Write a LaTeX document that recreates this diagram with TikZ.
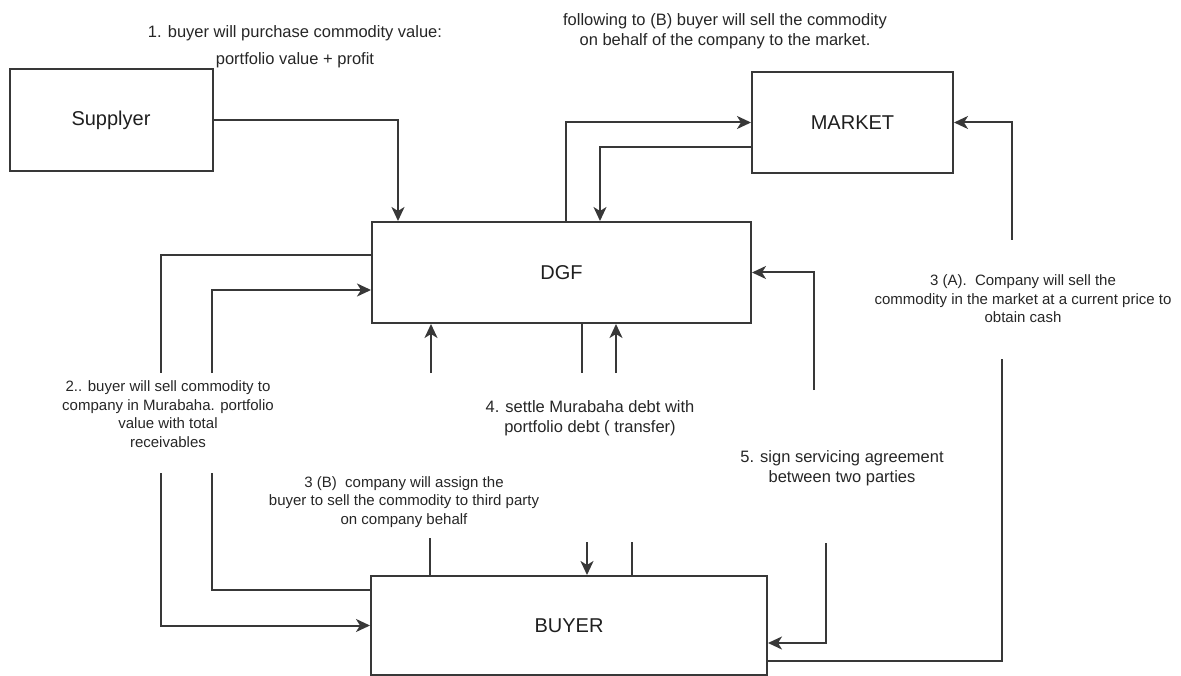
\documentclass[tikz,border=0pt]{standalone}
\usepackage{fontspec}
\setmainfont{Liberation Sans}
\usetikzlibrary{arrows.meta}
\colorlet{linec}{black!78}
\tikzset{
  box/.style={draw=linec, line width=2pt, inner sep=0pt, text=black!88, font=\fontsize{20}{24}\selectfont},
  link/.style={draw=linec, line width=2pt},
  flow/.style={link, -{Stealth[length=14pt,width=13pt,inset=4pt]}},
  note/.style={align=center, inner sep=0pt, text=black!85, font=\fontsize{16.5}{20}\selectfont},
  smallnote/.style={note, font=\fontsize{15}{18.5}\selectfont}
}

\begin{document}
\begin{tikzpicture}[x=1pt,y=-1pt]
				\useasboundingbox (0,0) rectangle (1181,676);
				\node[box, minimum width=203pt, minimum height=102pt] (sup) at (111,120) {Supplyer};
				\node[box, minimum width=379pt, minimum height=101pt] (dgf) at (561.5,272.5) {DGF};
				\node[box, minimum width=201pt, minimum height=101pt] (mkt) at (852.5,122.5) {MARKET};
				\node[box, minimum width=396pt, minimum height=99pt] (buy) at (569,625.5) {BUYER};
				\node[note] (t1) at (295,47) {1. buyer will purchase commodity value:\\[7pt]portfolio value + profit};
				\node[note] (tf) at (725,31) {following to (B) buyer will sell the commodity\\on behalf of the company to the market.};
				\node[smallnote] (t3a) at (1023,299) {3 (A).\ \ Company will sell the\\commodity in the market at a current price to\\obtain cash};
				\node[smallnote] (t2) at (168,414) {2.. buyer will sell commodity to\\company in Murabaha. portfolio\\value with total\\receivables};
				\node[note] (t4) at (590,418) {4. settle Murabaha debt with\\portfolio debt ( transfer)};
				\node[smallnote] (t3b) at (404,502) {3 (B)\ \ company will assign the\\buyer to sell the commodity to third party\\on company behalf};
				\node[note] (t5) at (842,468) {5. sign servicing agreement\\between two parties};
				\coordinate (ra) at (1012,240);
				\coordinate (rb) at (1002,359);
				\coordinate (fa) at (814,390);
				\coordinate (fb) at (826,543);
				\coordinate (la) at (161,373);
				\coordinate (lb) at (212,373);
				\coordinate (lc) at (161,473);
				\coordinate (ld) at (212,473);
				\coordinate (ma) at (431,373);
				\coordinate (mb) at (582,373);
				\coordinate (mc) at (616,373);
				\coordinate (ba) at (430,538);
				\coordinate (bb) at (587,542);
				\coordinate (bc) at (632,542);
				\draw[flow] (sup.east) -| (398,0 |- dgf.north);
				\draw[flow] (566,0 |- dgf.north) |- (mkt.west);
				\draw[flow] (mkt.west |- 0,147) -| (600,0 |- dgf.north);
				\draw[flow] (ra) |- (mkt.east);
				\draw[link] (buy.east |- 0,661) -| (rb);
				\draw[flow] (fa) |- (dgf.east);
				\draw[flow] (fb) |- (buy.east |- 0,643);
				\draw[link] (dgf.west |- 0,255) -| (la);
				\draw[flow] (lb) |- (dgf.west |- 0,290);
				\draw[flow] (lc) |- (buy.west);
				\draw[link] (buy.west |- 0,590) -| (ld);
				\draw[flow] (ma) to (ma |- dgf.south);
				\draw[link] (mb |- dgf.south) to (mb);
				\draw[flow] (mc) to (mc |- dgf.south);
				\draw[link, line width=2.4pt] (ba) to (ba |- buy.north);
				\draw[flow] (bb) to (bb |- buy.north);
				\draw[link] (bc |- buy.north) to (bc);
	\end{tikzpicture}
\end{document}
